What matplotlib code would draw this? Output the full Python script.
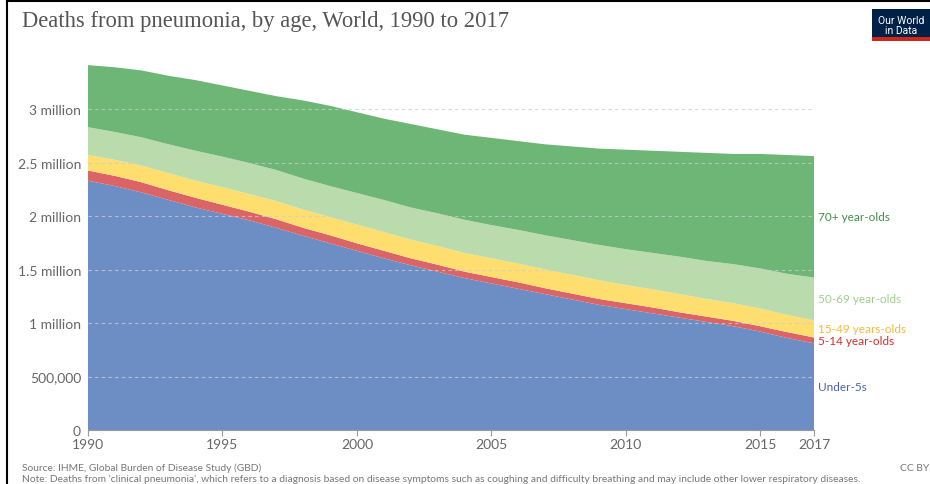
import numpy as np
import matplotlib.pyplot as plt
from matplotlib.lines import Line2D
from matplotlib.patches import Rectangle

# Deaths from pneumonia by age group, millions
years = list(range(1990, 2018))
under5 = [2.33, 2.28, 2.22, 2.15, 2.08, 2.02, 1.96, 1.89, 1.815, 1.745,
          1.675, 1.605, 1.54, 1.48, 1.42, 1.37, 1.32, 1.27, 1.22, 1.17,
          1.13, 1.09, 1.05, 1.01, 0.97, 0.92, 0.86, 0.81]
age5_14 = [0.095, 0.095, 0.095, 0.09, 0.09, 0.085, 0.08, 0.08, 0.075, 0.075,
           0.07, 0.07, 0.065, 0.065, 0.06, 0.06, 0.06, 0.055, 0.055, 0.055,
           0.055, 0.055, 0.05, 0.05, 0.05, 0.05, 0.055, 0.055]
age15_49 = [0.145, 0.15, 0.155, 0.16, 0.16, 0.165, 0.165, 0.17, 0.17, 0.17,
            0.175, 0.175, 0.175, 0.175, 0.175, 0.175, 0.175, 0.175, 0.175, 0.175,
            0.17, 0.17, 0.17, 0.165, 0.165, 0.165, 0.16, 0.16]
age50_69 = [0.26, 0.26, 0.265, 0.27, 0.28, 0.285, 0.29, 0.29, 0.29, 0.29,
            0.295, 0.30, 0.30, 0.305, 0.31, 0.31, 0.315, 0.32, 0.325, 0.33,
            0.335, 0.34, 0.35, 0.355, 0.365, 0.375, 0.385, 0.40]
age70 = [0.58, 0.605, 0.625, 0.64, 0.66, 0.665, 0.675, 0.69, 0.73, 0.75,
         0.755, 0.76, 0.78, 0.785, 0.795, 0.815, 0.83, 0.85, 0.875, 0.90,
         0.93, 0.955, 0.98, 1.01, 1.03, 1.07, 1.11, 1.135]

labels = ["Under-5s", "5-14 year-olds", "15-49 years-olds", "50-69 year-olds", "70+ year-olds"]
fill_colors = ["#6d8ec4", "#da6466", "#ffde70", "#badbac", "#6db676"]
text_colors = ["#4a62a8", "#d22e2e", "#f5b93a", "#9fcf8c", "#3f8f4a"]
yticks = [0, 0.5, 1, 1.5, 2, 2.5, 3]
ytick_labels = ["0", "500,000", "1 million", "1.5 million", "2 million", "2.5 million", "3 million"]
xticks = [1990, 1995, 2000, 2005, 2010, 2015, 2017]

series = [np.array(s) * 1e6 for s in [under5, age5_14, age15_49, age50_69, age70]]

fig = plt.figure(figsize=(9.3, 4.85), dpi=100)
ax = fig.add_axes([0.0946, 0.1113, 0.7807, 0.7722])

ax.stackplot(years, *series, colors=fill_colors, linewidth=0, zorder=1)

ax.set_xlim(1990, 2017)
ax.set_ylim(0, 3.5e6)

# dashed gridlines
for v in yticks[1:]:
    ax.axhline(v * 1e6, color="#cccccc", linestyle=(0, (3, 3)), linewidth=0.8, zorder=2, alpha=0.8)

ax.set_yticks([v * 1e6 for v in yticks])
ax.set_yticklabels(ytick_labels)
ax.set_xticks(xticks)
ax.set_xticklabels([str(x) for x in xticks])
ax.tick_params(axis="y", length=0, pad=5, labelsize=10, labelcolor="#666666")
ax.tick_params(axis="x", length=4, color="#999999", pad=2, labelsize=10, labelcolor="#666666")
for lbl in ax.get_xticklabels() + ax.get_yticklabels():
    lbl.set_family("Lato")

for side in ["top", "right", "left"]:
    ax.spines[side].set_visible(False)
ax.spines["bottom"].set_color("#999999")

# labels at the right end, placed at the middle of each band
cum = np.cumsum([s[-1] for s in series])
mids = cum - np.array([s[-1] for s in series]) / 2
for lab, c, m in zip(labels, text_colors, mids):
    ax.text(2017.15, m, lab, color=c, fontsize=8.5, family="Lato",
            va="center", ha="left", clip_on=False)

# title
fig.text(0.024, 0.955, "Deaths from pneumonia, by age, World, 1990 to 2017",
         family="Liberation Serif", fontsize=16.3, color="#555555", va="center")

# logo
fig.add_artist(Rectangle((0.9375, 0.913), 0.07, 0.066, transform=fig.transFigure,
                         facecolor="#002147", edgecolor="none"))
fig.add_artist(Rectangle((0.9375, 0.913), 0.07, 0.009, transform=fig.transFigure,
                         facecolor="#ce261e", edgecolor="none"))
fig.text(0.969, 0.946, "Our World\nin Data", family="Roboto", fontsize=7.5,
         color="white", ha="center", va="center", linespacing=0.95)

# footer
fig.text(0.024, 0.035, "Source: IHME, Global Burden of Disease Study (GBD)",
         family="Lato", fontsize=7.4, color="#777777", va="center")
fig.text(0.024, 0.011,
         "Note: Deaths from 'clinical pneumonia', which refers to a diagnosis based on disease symptoms "
         "such as coughing and difficulty breathing and may include other lower respiratory diseases.",
         family="Lato", fontsize=7.4, color="#777777", va="center")
fig.text(0.968, 0.035, "CC BY", family="Lato", fontsize=7.4, color="#777777", va="center")

# screenshot frame
fig.add_artist(Line2D([0.008, 0.008], [0, 0.996], transform=fig.transFigure, color="black", lw=1.5))
fig.add_artist(Line2D([0.008, 1], [0.996, 0.996], transform=fig.transFigure, color="black", lw=1.5))

fig.savefig("out.png", dpi=100)
